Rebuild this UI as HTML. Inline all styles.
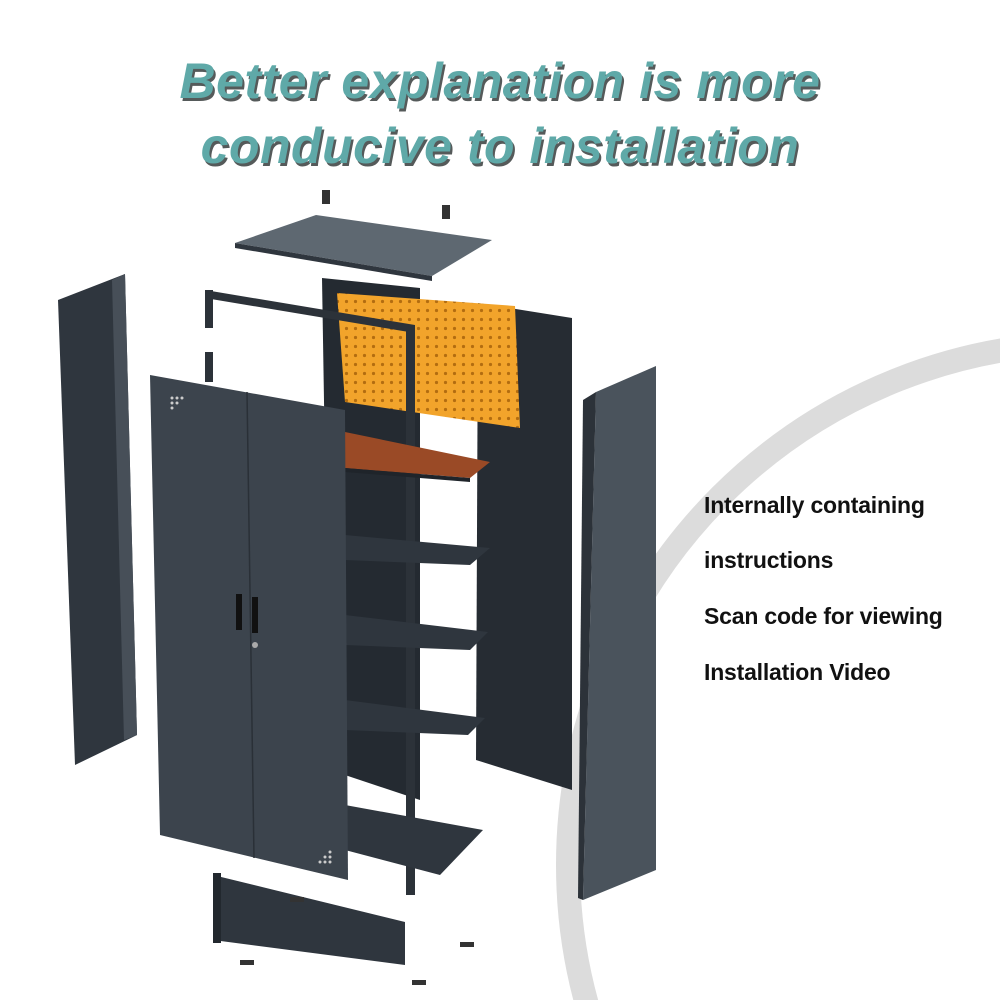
<!DOCTYPE html>
<html><head><meta charset="utf-8"><style>
html,body{margin:0;background:#fff;overflow:hidden;width:1000px;height:1000px;}
.w{position:relative;width:1000px;height:1000px;overflow:hidden;background:#fff;font-family:"Liberation Sans",sans-serif;}
.t{position:absolute;left:0;width:1000px;text-align:center;font-weight:bold;font-style:italic;font-size:50px;color:#5fa9a8;letter-spacing:0.5px;text-shadow:2px 3px 0 #555a5a;}
.r{position:absolute;left:704px;font-weight:bold;font-size:23px;color:#111;letter-spacing:-0.2px;}
</style></head><body><div class="w">
<svg width="1000" height="1000" style="position:absolute;left:0;top:0">
<defs><pattern id="d" width="9" height="9" patternUnits="userSpaceOnUse"><rect width="9" height="9" fill="#f2a42b"/><circle cx="4.5" cy="4.5" r="1.6" fill="#b36d10"/></pattern></defs>
<circle cx="1090" cy="865" r="522" fill="none" stroke="#dcdcdc" stroke-width="24"/>
<polygon points="58,300 125,274 137,735 75,765" fill="#2f363e"/>
<polygon points="112,280 125,274 137,735 124,740" fill="#474f58"/>
<rect x="322" y="190" width="8" height="14" fill="#333"/><rect x="442" y="205" width="8" height="14" fill="#333"/>
<polygon points="235,243 316,215 492,240 432,276" fill="#5e6871"/>
<polygon points="235,243 432,276 432,281 235,248" fill="#2f363e"/>
<polygon points="322,278 420,288 420,800 330,770" fill="#242a31"/>
<polygon points="478,303 572,318 572,790 476,760" fill="#262c33"/>
<polygon points="337,293 515,306 520,428 345,402" fill="url(#d)"/>
<polygon points="205,290 415,325 415,333 205,298" fill="#2c3239"/>
<rect x="205" y="290" width="8" height="38" fill="#2c3239"/>
<rect x="406" y="325" width="9" height="570" fill="#2c3239"/>
<rect x="205" y="352" width="8" height="30" fill="#2c3239"/>
<polygon points="345,432 490,462 470,478 345,468" fill="#9a4a26"/>
<polygon points="345,468 470,478 470,482 345,472" fill="#1f242a"/>
<polygon points="345,535 490,548 470,565 345,560" fill="#2f363e"/>
<polygon points="345,615 488,632 470,650 345,645" fill="#2f363e"/>
<polygon points="345,700 485,718 468,735 345,730" fill="#2f363e"/>
<polygon points="345,805 483,830 440,875 345,850" fill="#2f363e"/>
<polygon points="596,392 656,366 656,870 583,900" fill="#4a535c"/>
<polygon points="583,400 596,392 583,900 578,898" fill="#2c3239"/>
<polygon points="150,375 345,410 348,880 160,835" fill="#3c444d"/>
<line x1="247" y1="392" x2="254" y2="858" stroke="#2a3037" stroke-width="1.5"/>
<rect x="236" y="594" width="6" height="36" fill="#111"/><rect x="252" y="597" width="6" height="36" fill="#111"/>
<circle cx="255" cy="645" r="3" fill="#aaa"/>
<g fill="#ccc"><circle cx="172" cy="398" r="1.5"/><circle cx="177" cy="398" r="1.5"/><circle cx="182" cy="398" r="1.5"/><circle cx="172" cy="403" r="1.5"/><circle cx="177" cy="403" r="1.5"/><circle cx="172" cy="408" r="1.5"/>
<circle cx="330" cy="852" r="1.5"/><circle cx="325" cy="857" r="1.5"/><circle cx="330" cy="857" r="1.5"/><circle cx="320" cy="862" r="1.5"/><circle cx="325" cy="862" r="1.5"/><circle cx="330" cy="862" r="1.5"/></g>
<polygon points="213,875 405,922 405,965 213,940" fill="#2f363e"/>
<rect x="213" y="873" width="8" height="70" fill="#22282e"/>
<g fill="#333"><rect x="290" y="897" width="14" height="5"/><rect x="240" y="960" width="14" height="5"/><rect x="460" y="942" width="14" height="5"/><rect x="412" y="980" width="14" height="5"/></g>
</svg>
<div class="t" style="top:52px">Better explanation is more</div>
<div class="t" style="top:117px">conducive to installation</div>
<div class="r" style="top:492px">Internally containing</div>
<div class="r" style="top:547px">instructions</div>
<div class="r" style="top:603px">Scan code for viewing</div>
<div class="r" style="top:659px">Installation Video</div>
</div></body></html>
